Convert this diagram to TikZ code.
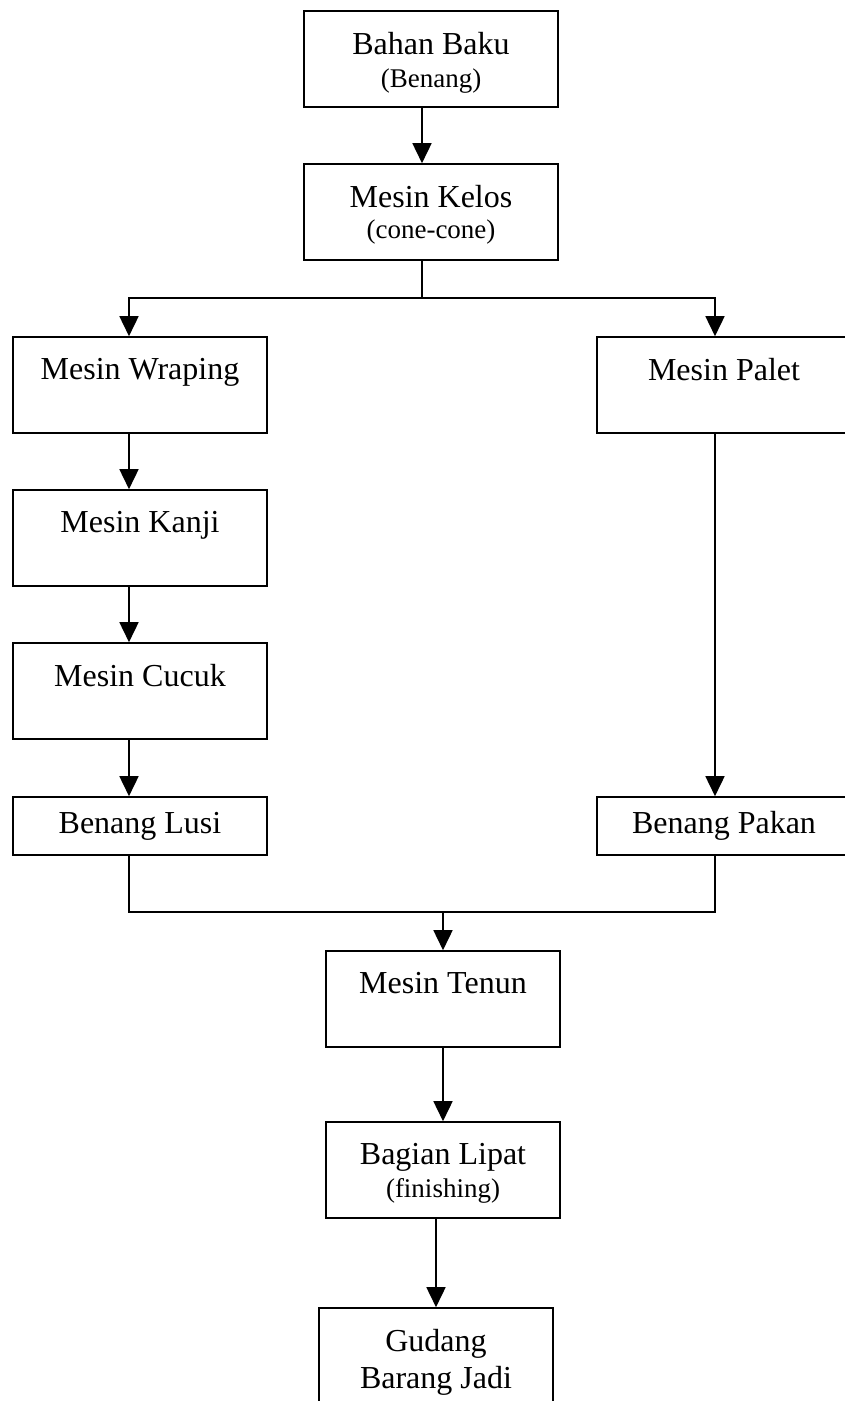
\documentclass[tikz,border=0pt]{standalone}
\usepackage{fontspec}
\setmainfont{Liberation Serif}
\usetikzlibrary{arrows.meta}

\newcommand\subtxt{\fontsize{27}{32}\selectfont}

\begin{document}
\begin{tikzpicture}[x=1pt,y=-1pt,
    box/.style={draw,line width=1.6pt,minimum width=254pt,minimum height=96pt,inner sep=0pt},
    narrow/.style={box,minimum width=234pt},
    flat/.style={box,minimum height=58pt,font=\fontsize{32}{37}\selectfont},
    txt/.style={anchor=north,yshift=-22pt,inner sep=0pt,align=center,font=\fontsize{32}{37}\selectfont},
    flow/.style={-{Triangle[length=20pt,width=19pt]},line width=1.6pt},
    link/.style={line width=1.6pt}]
    \useasboundingbox (0,0) rectangle (845,1401);
    % boxes
    \node[box,label={[txt]north:Bahan Baku\\[-4pt]{\subtxt (Benang)}}] (bahan) at (431,59) {};
    \node[box,label={[txt]north:Mesin Kelos\\[-6pt]{\subtxt (cone-cone)}}] (kelos) at (431,212) {};
    \node[box,label={[txt]north:Mesin Wraping}] (wrap) at (140,385) {};
    \node[box,label={[txt]north:Mesin Palet}] (palet) at (724,385) {};
    \node[box,label={[txt]north:Mesin Kanji}] (kanji) at (140,538) {};
    \node[box,label={[txt]north:Mesin Cucuk}] (cucuk) at (140,691) {};
    \node[flat] (lusi) at (140,826) {Benang Lusi};
    \node[flat] (pakan) at (724,826) {Benang Pakan};
    \node[narrow,label={[txt]north:Mesin Tenun}] (tenun) at (443,999) {};
    \node[narrow,label={[txt]north:Bagian Lipat\\[-4pt]{\subtxt (finishing)}}] (lipat) at (443,1170) {};
    \node[narrow,label={[txt]north:Gudang\\Barang Jadi}] (gudang) at (436,1356) {};
    % columns of the connectors
    \coordinate (colM) at (422,0);
    \coordinate (colL) at (129,0);
    \coordinate (colR) at (715,0);
    \coordinate (colT) at (443,0);
    \coordinate (colG) at (436,0);
    \coordinate (split) at (422,298);
    \coordinate (join) at (443,912);
    % connectors
    \draw[flow] (bahan.south -| colM) -- (kelos.north -| colM);
    \draw[link] (kelos.south -| colM) -- (split);
    \draw[flow] (split) -| (wrap.north -| colL);
    \draw[flow] (split) -| (palet.north -| colR);
    \draw[flow] (wrap.south -| colL) -- (kanji.north -| colL);
    \draw[flow] (kanji.south -| colL) -- (cucuk.north -| colL);
    \draw[flow] (cucuk.south -| colL) -- (lusi.north -| colL);
    \draw[flow] (palet.south -| colR) -- (pakan.north -| colR);
    \draw[link] (lusi.south -| colL) |- (join) -| (pakan.south -| colR);
    \draw[flow] (join) -- (tenun.north -| colT);
    \draw[flow] (tenun.south -| colT) -- (lipat.north -| colT);
    \draw[flow] (lipat.south -| colG) -- (gudang.north -| colG);
\end{tikzpicture}
\end{document}
